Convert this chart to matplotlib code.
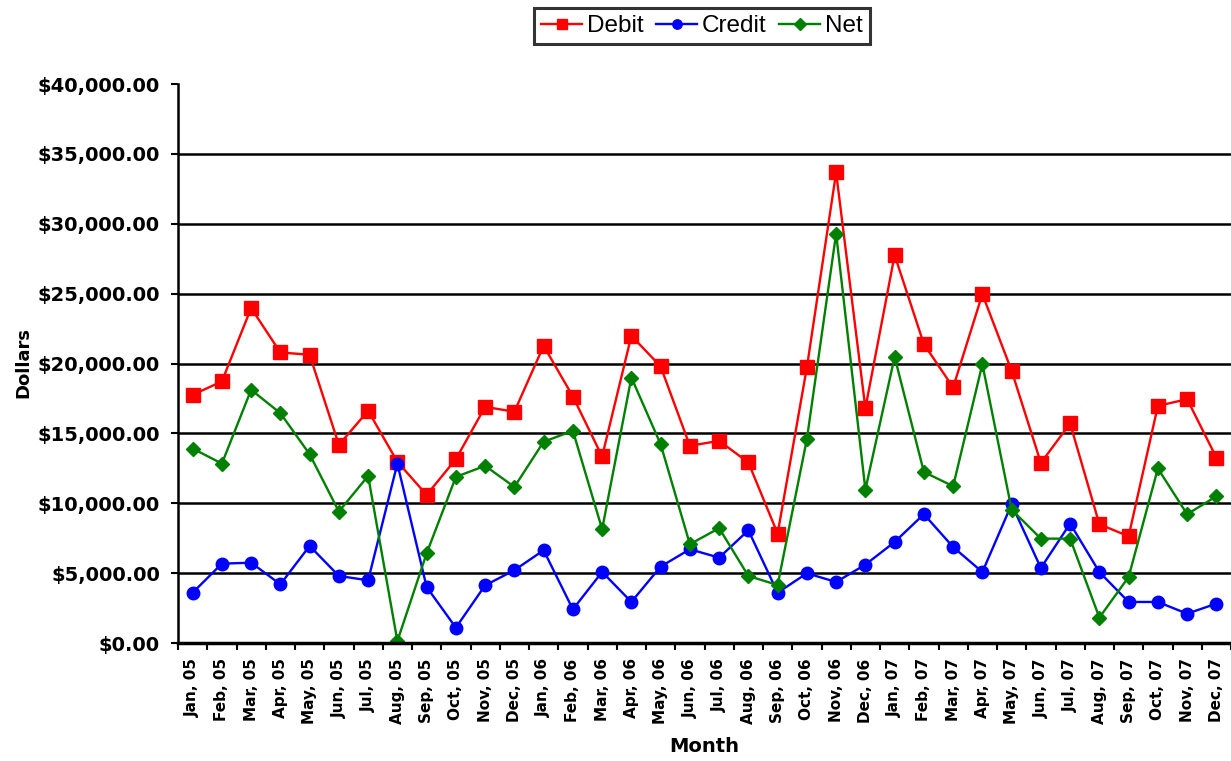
import numpy as np
import matplotlib.pyplot as plt
from matplotlib.ticker import FuncFormatter, FixedLocator

plt.rcParams['font.family'] = ['Liberation Sans', 'DejaVu Sans']

# 月ラベル
months = ['Jan', 'Feb', 'Mar', 'Apr', 'May', 'Jun',
          'Jul', 'Aug', 'Sep', 'Oct', 'Nov', 'Dec']
years = ['05', '06', '07']
labels = [m + ', ' + y for y in years for m in months]

debit = [17760, 18720, 23970, 20790, 20630, 14180, 16620, 12970, 10600, 13160, 16900, 16550,
         21270, 17640, 13350, 21990, 19790, 14110, 14470, 12920, 7830, 19720, 33670, 16800,
         27760, 21390, 18290, 24970, 19480, 12890, 15710, 8500, 7640, 16970, 17450, 13270]
credit = [3600, 5680, 5750, 4200, 6950, 4800, 4490, 12840, 4010, 1100, 4130, 5210,
          6640, 2410, 5090, 2940, 5470, 6710, 6110, 8070, 3600, 4990, 4370, 5610,
          7230, 9220, 6870, 5080, 9930, 5370, 8550, 5080, 2940, 2940, 2100, 2820]
net = [13920, 12840, 18120, 16450, 13510, 9410, 11960, 140, 6420, 11890, 12680, 11170,
       14400, 15190, 8140, 19000, 14230, 7070, 8220, 4800, 4150, 14590, 29300, 10970,
       20480, 12240, 11220, 19960, 9550, 7470, 7470, 1820, 4730, 12490, 9220, 10500]

x = np.arange(len(labels))
bold = dict(family='DejaVu Sans', fontweight='bold')

fig = plt.figure(figsize=(12.31, 7.61), dpi=100)
ax = fig.add_axes([0.1446, 0.155, 0.8554, 0.7346])

ax.plot(x, debit, color='#FF0000', lw=1.7, marker='s', ms=9.5, label='Debit')
ax.plot(x, credit, color='#0000FF', lw=1.7, marker='o', ms=9, label='Credit')
ax.plot(x, net, color='#008000', lw=1.7, marker='D', ms=7.5, label='Net')

# グリッド(横線のみ)
for v in range(5000, 40000, 5000):
    ax.axhline(v, color='black', lw=1.8, zorder=0)

ax.set_ylim(0, 40000)
ax.set_xlim(-0.5, len(labels) - 0.5)
ax.set_yticks(range(0, 40001, 5000))
ax.yaxis.set_major_formatter(FuncFormatter(lambda v, p: '${:,.2f}'.format(v)))
for t in ax.get_yticklabels():
    t.set_fontfamily('DejaVu Sans')
    t.set_fontweight('bold')
    t.set_fontsize(14)
ax.tick_params(axis='y', direction='out', length=5, width=1.5, pad=8)

# x軸: 目盛りはカテゴリ境界、ラベルは中央
ax.xaxis.set_major_locator(FixedLocator(np.arange(-0.5, len(labels), 1)))
ax.xaxis.set_major_formatter(FuncFormatter(lambda v, p: ''))
ax.xaxis.set_minor_locator(FixedLocator(x))
ax.set_xticklabels(labels, minor=True, rotation=90, fontsize=11, **bold)
ax.tick_params(axis='x', which='major', direction='out', length=5, width=1.5)
ax.tick_params(axis='x', which='minor', length=0, pad=11)

for s in ['top', 'right']:
    ax.spines[s].set_visible(False)
ax.spines['left'].set_linewidth(1.8)
ax.spines['bottom'].set_linewidth(2.5)

fig.text(23 / 1231, 1 - 363 / 761, 'Dollars', rotation=90, ha='center', va='center',
         fontsize=13, **bold)
fig.text(704 / 1231, 1 - 746 / 761, 'Month', ha='center', va='center',
         fontsize=14, **bold)

leg = ax.legend(loc='center', bbox_to_anchor=(702 / 1231, 1 - 26 / 761),
                bbox_transform=fig.transFigure, markerscale=0.75,
                ncol=3, fontsize=17.5, frameon=True, fancybox=False, handlelength=1.7,
                columnspacing=0.5, handletextpad=0.2, borderpad=0.3, borderaxespad=0)
leg.get_frame().set_edgecolor('black')
leg.get_frame().set_linewidth(2.2)

fig.savefig('out.png', dpi=100)
